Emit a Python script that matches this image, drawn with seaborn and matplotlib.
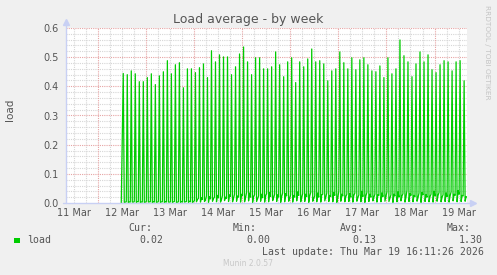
import numpy as np
import pandas as pd
import matplotlib
matplotlib.use("Agg")
import matplotlib.pyplot as plt
import matplotlib.dates as mdates
from matplotlib.patches import Rectangle
import seaborn as sns

# ---------------- data ----------------
first_peak = "2026-03-12 12:45"
peaks = [0.444, 0.440, 0.453, 0.443, 0.416, 0.416, 0.430, 0.443, 0.406, 0.436,
         0.450, 0.488, 0.443, 0.474, 0.481, 0.395, 0.460, 0.460, 0.447, 0.464,
         0.477, 0.430, 0.522, 0.484, 0.508, 0.501, 0.501, 0.440,
         0.467, 0.511, 0.535, 0.484, 0.440, 0.498, 0.498, 0.460, 0.460, 0.467,
         0.518, 0.474, 0.433, 0.484, 0.498, 0.413, 0.484, 0.467, 0.494, 0.528,
         0.484, 0.488, 0.477, 0.419, 0.453, 0.460, 0.518, 0.481, 0.460, 0.498,
         0.457, 0.491, 0.498, 0.474, 0.453, 0.450, 0.470, 0.430, 0.498, 0.443,
         0.460, 0.559, 0.505, 0.484, 0.433, 0.477, 0.518, 0.484, 0.508, 0.457,
         0.447, 0.474, 0.488, 0.484, 0.453, 0.484, 0.488, 0.419]
dips = [0.002, 0.001, 0.003, 0.002, 0.001, 0.002, 0.003, 0.001, 0.002, 0.002,
        0.001, 0.003, 0.002, 0.001, 0.002, 0.003, 0.002, 0.001, 0.004, 0.003,
        0.005, 0.002, 0.006, 0.004, 0.003, 0.008, 0.005, 0.004, 0.006, 0.003,
        0.004, 0.007, 0.002, 0.005, 0.006, 0.003, 0.004, 0.008, 0.005, 0.002,
        0.004, 0.006, 0.003, 0.007, 0.004, 0.005, 0.002, 0.006, 0.004, 0.003,
        0.007, 0.005, 0.004, 0.002, 0.006, 0.004, 0.005, 0.003, 0.006, 0.004,
        0.002, 0.005, 0.007, 0.003, 0.004, 0.006, 0.005, 0.002, 0.004, 0.007,
        0.003, 0.005, 0.004, 0.006, 0.002, 0.005, 0.004, 0.003, 0.006, 0.004,
        0.005, 0.003, 0.007, 0.004, 0.005, 0.006]
hump_a = [0.003, 0.004, 0.003, 0.005, 0.004, 0.003, 0.004, 0.005, 0.003, 0.004,
          0.005, 0.003, 0.004, 0.003, 0.005, 0.004, 0.006, 0.005, 0.012, 0.018,
          0.010, 0.022, 0.015, 0.026, 0.012, 0.020, 0.028, 0.016, 0.024, 0.030,
          0.018, 0.034, 0.022, 0.014, 0.030, 0.025, 0.036, 0.018, 0.028, 0.022,
          0.032, 0.016, 0.026, 0.038, 0.020, 0.030, 0.024, 0.016, 0.034, 0.028,
          0.020, 0.026, 0.036, 0.018, 0.030, 0.022, 0.032, 0.026, 0.018, 0.040,
          0.024, 0.030, 0.020, 0.028, 0.034, 0.022, 0.016, 0.030, 0.038, 0.024,
          0.020, 0.032, 0.026, 0.018, 0.036, 0.028, 0.022, 0.040, 0.026, 0.020,
          0.034, 0.024, 0.030, 0.042, 0.026, 0.022]
hump_b = [0.004, 0.003, 0.005, 0.004, 0.003, 0.005, 0.004, 0.003, 0.005, 0.004,
          0.003, 0.004, 0.005, 0.004, 0.003, 0.005, 0.004, 0.008, 0.016, 0.012,
          0.024, 0.014, 0.020, 0.018, 0.026, 0.016, 0.022, 0.030, 0.020, 0.026,
          0.036, 0.020, 0.028, 0.024, 0.018, 0.032, 0.022, 0.030, 0.020, 0.034,
          0.024, 0.028, 0.020, 0.026, 0.032, 0.022, 0.036, 0.024, 0.020, 0.030,
          0.034, 0.022, 0.026, 0.040, 0.024, 0.030, 0.020, 0.034, 0.028, 0.022,
          0.036, 0.020, 0.030, 0.026, 0.022, 0.038, 0.028, 0.024, 0.020, 0.032,
          0.044, 0.026, 0.022, 0.034, 0.028, 0.020, 0.030, 0.024, 0.036, 0.028,
          0.022, 0.038, 0.026, 0.030, 0.024, 0.020]

y_ticks = [0.0, 0.1, 0.2, 0.3, 0.4, 0.5, 0.6]
x_start = "2026-03-11 08:11:26"
x_end = "2026-03-19 16:11:26"
title = "Load average - by week"
legend_heads = ["Cur:", "Min:", "Avg:", "Max:"]
legend_vals = ["0.02", "0.00", "0.13", "1.30"]
series_name = "load"
last_update = "Last update: Thu Mar 19 16:11:26 2026"

# ---------------- build the sampled series (30-min steps) ----------------
peak_times = pd.date_range(first_peak, periods=len(peaks), freq="2h")
half = pd.Timedelta(minutes=30)
times, vals = [peak_times[0] - 2 * half], [0.0]
for t, p, d, ha, hb in zip(peak_times, peaks, dips, hump_a, hump_b):
    times += [t, t + half, t + 2 * half, t + 3 * half]
    vals += [p, d, ha, hb]
df = pd.DataFrame({"time": times, "load": vals})

# ---------------- figure ----------------
W, H = 497, 275
BG = "#F0F0F0"
FONT = "#555555"
AXIS = "#C8D0F4"
GRID = "#D6D6D6"
MGRID = "#E6A4A4"
GREEN = "#00CC00"

sns.set_style("white")
plt.rcParams["font.family"] = ["DejaVu Sans"]

fig = plt.figure(figsize=(W / 100, H / 100), dpi=100, facecolor=BG)
L, R, T, B = 66, 467, 28, 203
ax = fig.add_axes([L / W, 1 - B / H, (R - L) / W, (B - T) / H])
ax.set_facecolor("white")

def fx(x):
    return x / W

def fy(y):
    return 1 - y / H

xs, xe = pd.Timestamp(x_start), pd.Timestamp(x_end)

# grid
for t in pd.date_range("2026-03-11 12:00", "2026-03-19 18:00", freq="6h"):
    if t.hour == 0:
        ax.axvline(t, color=MGRID, lw=0.8, ls=(0, (1, 1)), zorder=0.6)
    else:
        ax.axvline(t, color=GRID, lw=0.8, ls=(0, (1, 1)), zorder=0.5)
for v in np.arange(0.02, 0.61, 0.02):
    major = abs(round(v * 10) - v * 10) < 1e-6
    ax.axhline(v, color=MGRID if major else GRID, lw=0.8, ls=(0, (1, 1)),
               zorder=0.6 if major else 0.5)

sns.lineplot(data=df, x="time", y="load", color=GREEN, lw=0.9,
             estimator=None, ax=ax, zorder=2)

ax.set_xlim(xs, xe)
ax.set_ylim(0, 0.6)
ax.set_yticks(y_ticks)
ax.set_yticklabels([f"{v:.1f}" for v in y_ticks])
ax.xaxis.set_major_locator(mdates.HourLocator(byhour=[12]))
ax.xaxis.set_major_formatter(mdates.DateFormatter("%d %b"))
ax.tick_params(axis="both", length=0, labelsize=7, colors=FONT)
ax.tick_params(axis="y", pad=5)
ax.tick_params(axis="x", pad=3.5)
ax.set_xlabel("")
ax.set_ylabel("")
for s in ax.spines.values():
    s.set_visible(False)

# axes with arrows
ax.plot([0, 0], [0, 1.035], transform=ax.transAxes, color=AXIS, lw=1, clip_on=False, zorder=3)
ax.plot([-0.008, 1.015], [0, 0], transform=ax.transAxes, color=AXIS, lw=1, clip_on=False, zorder=3)
ax.plot([0], [1.035], marker="^", ms=4, color=AXIS, transform=ax.transAxes, clip_on=False)
ax.plot([1.015], [0], marker=">", ms=4, color=AXIS, transform=ax.transAxes, clip_on=False)

# texts
fig.text(fx(248), fy(19), title, ha="center", va="center", fontsize=9, color=FONT)
fig.text(fx(10), fy(110), "load", ha="center", va="center", rotation=90, fontsize=7.5, color=FONT)
fig.text(fx(487), fy(5), "RRDTOOL / TOBI OETIKER", ha="center", va="top", rotation=270,
         fontsize=5.3, color="#C4C4C4")

mono = dict(family="DejaVu Sans Mono", fontsize=7.1, color=FONT, va="center", ha="left")
for h, x in zip(legend_heads, [128, 233, 340, 447]):
    fig.text(fx(x), fy(228), h, **mono)
fig.add_artist(Rectangle((fx(14), fy(243)), 6 / W, 5.5 / H, transform=fig.transFigure,
                         color=GREEN, lw=0))
fig.text(fx(27), fy(240), series_name, **mono)
for v, x in zip(legend_vals, [139, 246, 352, 459]):
    fig.text(fx(x), fy(240), v, **mono)
fig.text(fx(262), fy(252), last_update, **mono)
fig.text(fx(223), fy(264), "Munin 2.0.57", fontsize=5.5, color="#C8C8C8", va="center", ha="left")

fig.savefig("out.png", dpi=100, facecolor=BG)
